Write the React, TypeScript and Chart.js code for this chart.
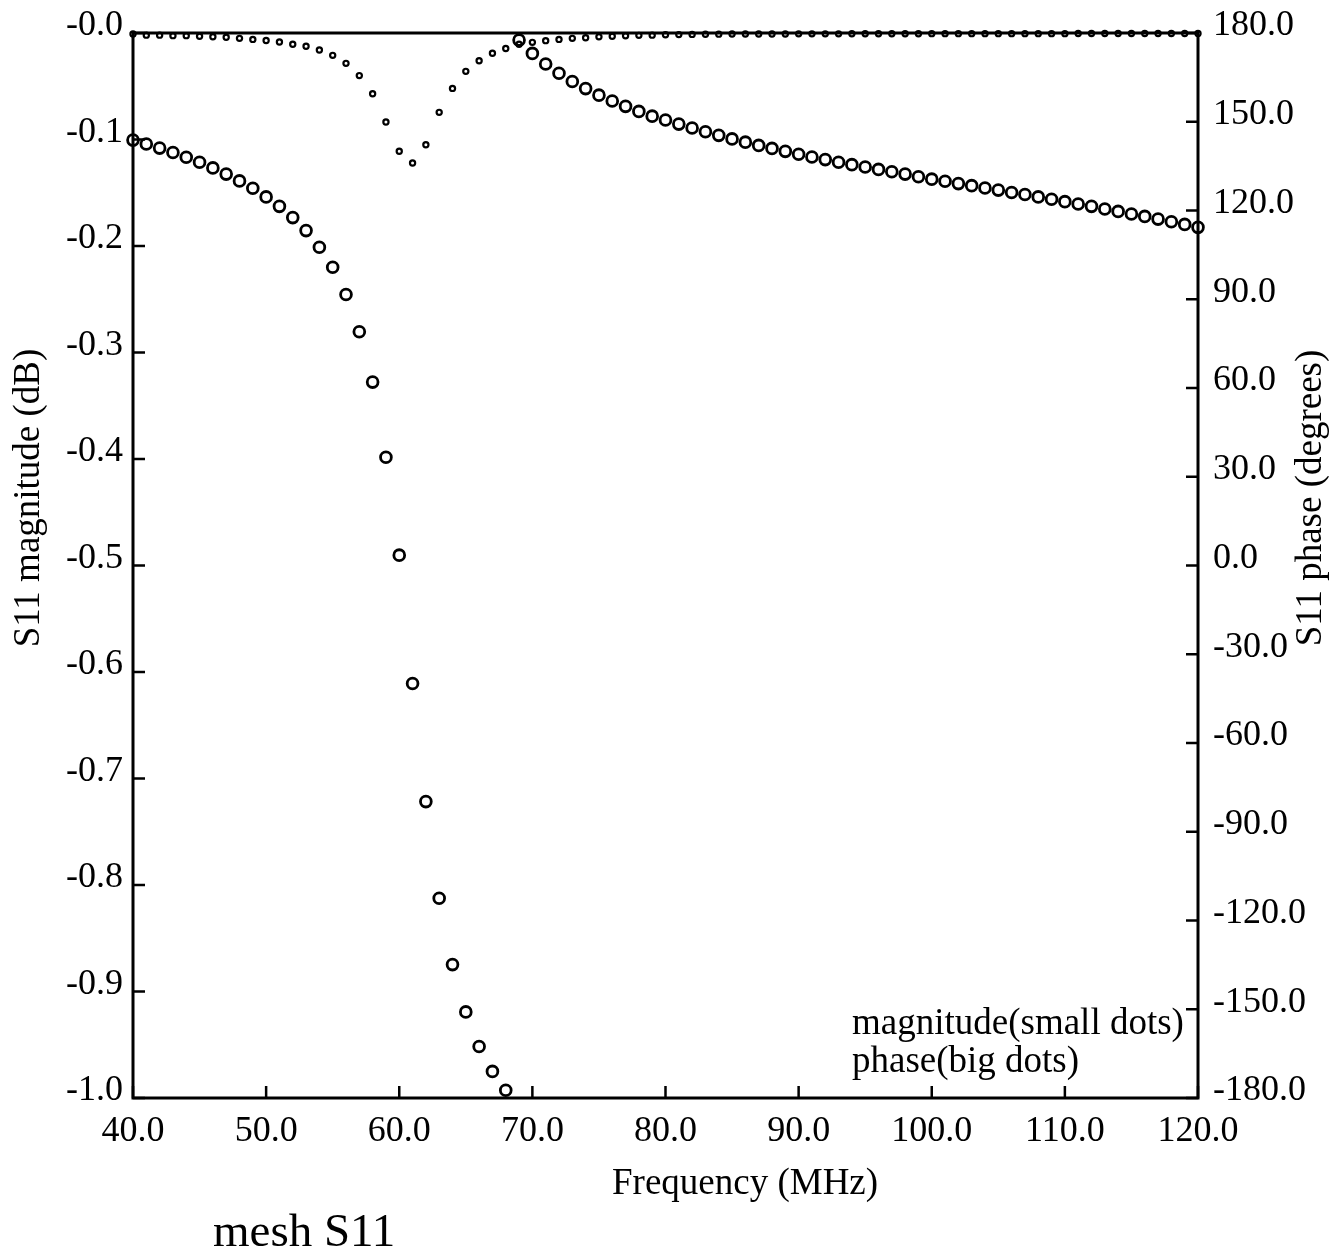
import React, { useEffect, useRef } from "react";
import { Chart, registerables } from "chart.js";

Chart.register(...registerables);

// ---------------- data ----------------
const freqMHz = [
  40, 41, 42, 43, 44, 45, 46, 47, 48, 49,
  50, 51, 52, 53, 54, 55, 56, 57, 58, 59,
  60, 61, 62, 63, 64, 65, 66, 67, 68, 69,
  70, 71, 72, 73, 74, 75, 76, 77, 78, 79,
  80, 81, 82, 83, 84, 85, 86, 87, 88, 89,
  90, 91, 92, 93, 94, 95, 96, 97, 98, 99,
  100, 101, 102, 103, 104, 105, 106, 107, 108, 109,
  110, 111, 112, 113, 114, 115, 116, 117, 118, 119,
  120,
];

const magnitudeDb = [
  -0.001, -0.002, -0.002, -0.0025, -0.0025, -0.003, -0.0035, -0.004, -0.005, -0.006,
  -0.007, -0.0085, -0.0105, -0.0125, -0.016, -0.021, -0.0285, -0.04, -0.057, -0.0835,
  -0.111, -0.122, -0.105, -0.0745, -0.052, -0.036, -0.026, -0.019, -0.0145, -0.0105,
  -0.0088, -0.0072, -0.006, -0.005, -0.0044, -0.0036, -0.003, -0.0026, -0.0022, -0.002,
  -0.0017, -0.0015, -0.0013, -0.0012, -0.0011, -0.001, -0.001, -0.0009, -0.0009, -0.0009,
  -0.0008, -0.0008, -0.0008, -0.0008, -0.0007, -0.0007, -0.0007, -0.0007, -0.0007, -0.0007,
  -0.0006, -0.0006, -0.0006, -0.0006, -0.0006, -0.0006, -0.0006, -0.0006, -0.0006, -0.0006,
  -0.0006, -0.0005, -0.0005, -0.0005, -0.0005, -0.0005, -0.0005, -0.0005, -0.0005, -0.0005,
  -0.0005,
];

const phaseDeg = [
  143.8, 142.5, 141.1, 139.6, 138.0, 136.3, 134.4, 132.3, 130.0, 127.5,
  124.6, 121.4, 117.6, 113.2, 107.6, 100.8, 91.6, 79.0, 62.0, 36.6,
  3.5, -39.9, -79.8, -112.5, -134.9, -150.9, -162.6, -171.0, -177.4, 177.6,
  173.1, 169.5, 166.4, 163.6, 161.2, 159.0, 157.0, 155.2, 153.5, 151.9,
  150.6, 149.2, 147.9, 146.6, 145.4, 144.2, 143.1, 142.0, 141.0, 140.0,
  139.0, 138.1, 137.2, 136.3, 135.5, 134.7, 133.9, 133.1, 132.3, 131.4,
  130.6, 129.9, 129.1, 128.4, 127.6, 126.9, 126.1, 125.4, 124.6, 123.8,
  123.0, 122.2, 121.4, 120.5, 119.7, 118.8, 118.0, 117.1, 116.2, 115.3,
  114.3,
];

const xTitle = "Frequency (MHz)";
const yLeftTitle = "S11 magnitude (dB)";
const yRightTitle = "S11 phase (degrees)";
const captionText = "mesh S11";
const legendLines = ["magnitude(small dots)", "phase(big dots)"];

const SERIF = '"Liberation Serif", "Times New Roman", serif';
const W = 1343;
const H = 1255;

const framePlugin = {
  id: "frameAndText",
  beforeDatasetsDraw(chart: any) {
    const { ctx, chartArea: a, scales } = chart;
    ctx.save();
    ctx.strokeStyle = "#000";
    ctx.lineWidth = 3;
    ctx.strokeRect(a.left, a.top, a.right - a.left, a.bottom - a.top);
    ctx.lineWidth = 2.5;
    const L = 12;
    ctx.beginPath();
    scales.x.ticks.forEach((t: any) => {
      const px = scales.x.getPixelForValue(t.value);
      ctx.moveTo(px, a.bottom);
      ctx.lineTo(px, a.bottom - L);
    });
    scales.y.ticks.forEach((t: any) => {
      const py = scales.y.getPixelForValue(t.value);
      ctx.moveTo(a.left, py);
      ctx.lineTo(a.left + L, py);
    });
    scales.y1.ticks.forEach((t: any) => {
      const py = scales.y1.getPixelForValue(t.value);
      ctx.moveTo(a.right, py);
      ctx.lineTo(a.right - L, py);
    });
    ctx.stroke();
    ctx.restore();
  },
  afterDraw(chart: any) {
    const { ctx } = chart;
    ctx.save();
    ctx.fillStyle = "#000";
    ctx.textBaseline = "alphabetic";

    ctx.font = `37px ${SERIF}`;
    ctx.textAlign = "left";
    ctx.fillText(xTitle, 612, 1194);

    ctx.fillText(legendLines[0], 852, 1034);
    ctx.fillText(legendLines[1], 852, 1072);

    ctx.textAlign = "center";
    ctx.save();
    ctx.translate(39, 498);
    ctx.rotate(-Math.PI / 2);
    ctx.fillText(yLeftTitle, 0, 0);
    ctx.restore();

    ctx.save();
    ctx.translate(1321, 498);
    ctx.rotate(-Math.PI / 2);
    ctx.fillText(yRightTitle, 0, 0);
    ctx.restore();

    ctx.font = `47px ${SERIF}`;
    ctx.textAlign = "left";
    ctx.fillText(captionText, 213, 1246);
    ctx.restore();
  },
};

const noVerticalPadding = (s: any, width: number) => {
  s.width = width;
  s.paddingTop = 0;
  s.paddingBottom = 0;
};

export default function App() {
  const ref = useRef<HTMLCanvasElement | null>(null);

  useEffect(() => {
    if (!ref.current) return;
    const tickFont = { family: SERIF, size: 36 };
    const chart = new Chart(ref.current, {
      type: "scatter",
      data: {
        datasets: [
          {
            label: "magnitude",
            data: freqMHz.map((f, i) => ({ x: f, y: magnitudeDb[i] })),
            xAxisID: "x",
            yAxisID: "y",
            showLine: false,
            pointStyle: "circle",
            pointRadius: 2.6,
            pointBorderWidth: 2.2,
            borderColor: "#000",
            backgroundColor: "rgba(0,0,0,0)",
            clip: false,
          },
          {
            label: "phase",
            data: freqMHz.map((f, i) => ({ x: f, y: phaseDeg[i] })),
            xAxisID: "x",
            yAxisID: "y1",
            showLine: false,
            pointStyle: "circle",
            pointRadius: 5.4,
            pointBorderWidth: 2.8,
            borderColor: "#000",
            backgroundColor: "rgba(0,0,0,0)",
            clip: false,
          },
        ],
      },
      options: {
        responsive: false,
        animation: false,
        devicePixelRatio: 1,
        layout: { autoPadding: false, padding: { top: 33, left: 0, right: 0, bottom: 0 } },
        plugins: {
          legend: { display: false },
          tooltip: { enabled: false },
        },
        scales: {
          x: {
            type: "linear",
            position: "bottom",
            min: 40,
            max: 120,
            grid: { display: false, drawTicks: false },
            border: { display: false },
            ticks: {
              stepSize: 10,
              autoSkip: false,
              maxRotation: 0,
              padding: 12,
              color: "#000",
              font: tickFont,
              callback: (v: any) => Number(v).toFixed(1),
            },
            afterFit: (s: any) => {
              s.height = 157;
              s.paddingLeft = 0;
              s.paddingRight = 0;
            },
          },
          y: {
            type: "linear",
            position: "left",
            min: -1,
            max: 0,
            grid: { display: false, drawTicks: false },
            border: { display: false },
            ticks: {
              stepSize: 0.1,
              autoSkip: false,
              padding: 10,
              labelOffset: -7,
              color: "#000",
              font: tickFont,
              callback: (v: any) => {
                const n = Number(v);
                if (Math.abs(n) < 1e-9) return "-0.0";
                return n.toFixed(1);
              },
            },
            afterFit: (s: any) => noVerticalPadding(s, 133),
          },
          y1: {
            type: "linear",
            position: "right",
            min: -180,
            max: 180,
            grid: { display: false, drawTicks: false },
            border: { display: false },
            ticks: {
              stepSize: 30,
              autoSkip: false,
              padding: 15,
              labelOffset: -7,
              color: "#000",
              font: tickFont,
              callback: (v: any) => Number(v).toFixed(1),
            },
            afterFit: (s: any) => noVerticalPadding(s, W - 1198),
          },
        },
      },
      plugins: [framePlugin],
    } as any);
    return () => chart.destroy();
  }, []);

  return (
    <div
      style={{
        position: "absolute",
        left: 0,
        top: 0,
        width: W,
        height: H,
        background: "#fff",
        overflow: "hidden",
      }}
    >
      <canvas ref={ref} width={W} height={H} style={{ width: W, height: H, display: "block" }} />
    </div>
  );
}
